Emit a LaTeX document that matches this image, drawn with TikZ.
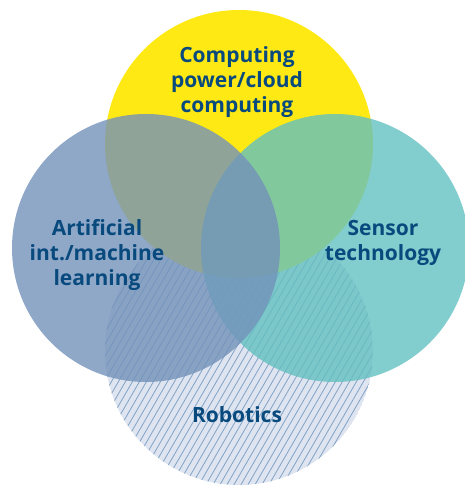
\documentclass[tikz,border=0pt]{standalone}
\usepackage{fontspec}
\setmainfont{Open Sans}
\definecolor{sunyellow}{RGB}{255,233,20}
\definecolor{aiblue}{RGB}{115,146,186}
\definecolor{sensteal}{RGB}{99,192,192}
\definecolor{robofill}{RGB}{222,228,240}
\definecolor{robohatch}{RGB}{130,163,198}
\definecolor{labelblue}{RGB}{8,74,125}
\begin{document}
\begin{tikzpicture}[x=1pt,y=-1pt,
  label/.style={font=\bfseries\fontsize{21}{25}\selectfont, text=labelblue, align=center, inner sep=0pt},
  bubble/.style={fill opacity=0.8}]
\useasboundingbox (0,0) rectangle (464,486);
% circle centres and common radius
\def\rad{134}
\coordinate (cTop) at (239,144);
\coordinate (cLeft) at (146,248);
\coordinate (cRight) at (335,248);
\coordinate (cBottom) at (239,351);
% robotics: light fill with diagonal hatching
\begin{scope}
  \clip (cBottom) circle (\rad);
  \fill[robofill] (cBottom) circle (\rad);
  \foreach \x in {-80,-73,...,400}
    \draw[robohatch, line width=0.8pt] (\x,495) -- ++(170,-294.5);
\end{scope}
% computing power
\fill[sunyellow] (cTop) circle (\rad);
% sensor technology, then AI on top
\fill[sensteal, bubble] (cRight) circle (\rad);
\fill[aiblue, bubble] (cLeft) circle (\rad);
% labels
\node[label] (computing) at (237,82) {Computing\\power/cloud\\computing};
\node[label] (ai) at (97,255) {Artificial\\int./machine\\learning};
\node[label] (sensor) at (383,243) {Sensor\\technology};
\node[label] (robotics) at (237,415) {Robotics};
\end{tikzpicture}
\end{document}
